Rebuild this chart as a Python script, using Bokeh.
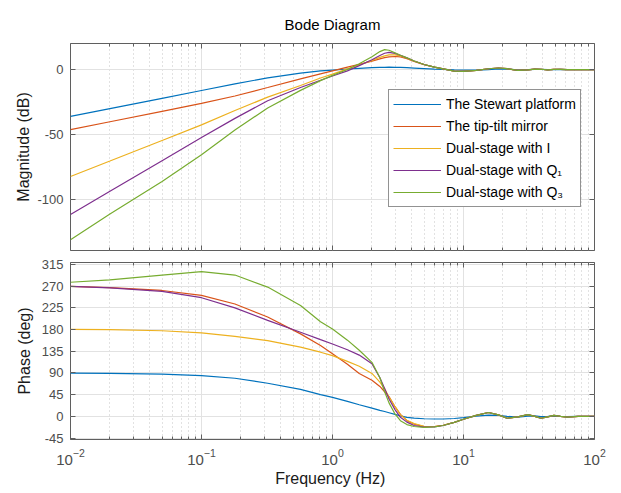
from bokeh.plotting import figure
from bokeh.models import (LogAxis, LinearAxis, FixedTicker, LogTickFormatter, Legend,
                          LegendItem, Range1d, CustomJSTickFormatter)
from bokeh.layouts import column
from bokeh.embed import file_html
from bokeh.resources import INLINE

# ---------------- data ----------------
freq = [0.01, 0.02, 0.05, 0.1, 0.18, 0.32, 0.57, 0.81, 1.0, 1.3, 1.6, 2.0, 2.3, 2.5,
        2.7, 3.0, 3.3, 3.7, 4.2, 5.0, 6.0, 7.0, 8.5, 10, 12.5, 15.5, 18.5, 21.5, 26,
        31, 35, 39, 44, 49, 55, 62, 75, 100]

series_names = ["The Stewart platform", "The tip-tilt mirror", "Dual-stage with I",
                "Dual-stage with Q\u2081", "Dual-stage with Q\u2083"]

mag_stewart = [-36.0, -30.0, -22.1, -16.1, -11.0, -6.4, -2.8, -1.1, -0.4, 0.4, 0.9, 1.4,
               1.6, 1.7, 1.8, 1.7, 1.6, 1.4, 1.1, 0.7, 0.3, 0.1, -0.2, -0.4, -0.4, 0.0,
               0.4, 0.3, -0.3, -0.1, 0.2, 0.1, -0.1, 0.0, 0.1, 0.0, 0.0, 0.0]
mag_mirror = [-46.2, -40.1, -32.1, -26.0, -20.3, -13.8, -7.2, -3.3, -1.0, 1.8, 4.0, 6.5,
              8.2, 9.1, 9.7, 10.0, 9.7, 8.4, 6.3, 3.8, 1.8, 0.5, -1.2, -1.4, -0.6, 0.6,
              1.2, 0.7, -0.7, -0.3, 0.3, 0.2, -0.3, 0.1, 0.2, 0.0, 0.0, 0.0]
mag_dual_i = [-82.2, -70.3, -54.5, -42.5, -31.5, -21.2, -12.3, -6.5, -3.5, 0.5, 3.5, 7.0,
              9.3, 10.5, 11.3, 11.3, 10.5, 8.8, 6.5, 3.9, 1.9, 0.5, -1.2, -1.4, -0.6, 0.6,
              1.2, 0.7, -0.7, -0.3, 0.3, 0.2, -0.3, 0.1, 0.2, 0.0, 0.0, 0.0]
mag_dual_q1 = [-111.4, -93.5, -70.0, -52.2, -37.5, -24.0, -13.8, -8.2, -5.0, -1.0, 3.0,
               7.5, 10.8, 12.5, 13.2, 12.4, 11.0, 9.0, 6.6, 3.9, 1.9, 0.5, -1.2, -1.4,
               -0.6, 0.6, 1.2, 0.7, -0.7, -0.3, 0.3, 0.2, -0.3, 0.1, 0.2, 0.0, 0.0, 0.0]
mag_dual_q3 = [-130.8, -111.0, -86.0, -65.5, -46.5, -29.5, -16.0, -8.5, -4.5, 0.0, 4.5,
               9.8, 13.8, 15.3, 14.8, 12.8, 11.0, 9.0, 6.6, 3.9, 1.9, 0.5, -1.2, -1.4,
               -0.6, 0.6, 1.2, 0.7, -0.7, -0.3, 0.3, 0.2, -0.3, 0.1, 0.2, 0.0, 0.0, 0.0]

ph_stewart = [89.5, 89.0, 87.5, 84.5, 79.0, 68.6, 56.0, 45.0, 39.5, 31.0, 24.0, 17.0,
              12.5, 10.0, 7.5, 4.0, 1.0, -2.0, -3.5, -5.0, -5.5, -5.5, -4.5, -2.5, 0.5,
              2.5, 2.0, 0.0, -1.5, 0.5, 1.0, -0.5, 0.0, 0.5, 0.0, -0.3, 0.0, 0.0]
ph_mirror = [269.4, 267.0, 261.0, 251.0, 233.0, 206.0, 171.0, 147.0, 130.0, 108.0, 89.0,
             75.0, 62.0, 51.0, 41.0, 20.0, 4.0, -9.0, -16.0, -21.0, -21.0, -18.5, -12.5,
             -6.0, 2.0, 8.0, 3.0, -4.0, -1.0, 3.5, 0.0, -4.0, -1.0, 2.0, 0.0, -1.5, 0.0, 0.0]
ph_dual_i = [180.5, 180.0, 177.5, 173.0, 166.0, 157.0, 143.5, 133.0, 126.0, 114.0, 104.0,
             89.0, 71.0, 57.0, 40.0, 20.0, 3.0, -8.0, -15.0, -20.5, -21.0, -18.5, -12.5,
             -6.0, 2.0, 8.0, 3.0, -4.0, -1.0, 3.5, 0.0, -4.0, -1.0, 2.0, 0.0, -1.5, 0.0, 0.0]
ph_dual_q1 = [269.4, 266.5, 259.0, 246.0, 225.0, 199.0, 174.5, 159.0, 150.0, 138.0, 127.0,
              109.0, 80.0, 58.0, 36.0, 14.0, -2.0, -12.0, -19.0, -22.5, -22.0, -19.0,
              -12.5, -6.0, 2.0, 8.0, 3.0, -4.0, -1.0, 3.5, 0.0, -4.0, -1.0, 2.0, 0.0,
              -1.5, 0.0, 0.0]
ph_dual_q3 = [278.0, 283.0, 293.0, 300.0, 293.0, 268.0, 230.0, 196.0, 181.0, 158.0, 137.0,
              112.0, 80.0, 51.0, 28.0, 5.0, -9.0, -17.0, -21.0, -23.0, -22.0, -19.0,
              -12.5, -6.0, 2.0, 8.0, 3.0, -4.0, -1.0, 3.5, 0.0, -4.0, -1.0, 2.0, 0.0,
              -1.5, 0.0, 0.0]

x_major = [0.01, 0.1, 1, 10, 100]
x_minor = [m * d for d in [0.01, 0.1, 1, 10] for m in range(2, 10)]
mag_ticks = [-100, -50, 0]
phase_ticks = [-45, 0, 45, 90, 135, 180, 225, 270, 315]

colors = ["#0072BD", "#D95319", "#EDB120", "#7E2F8E", "#77AC30"]

FONT = "Liberation Sans"
BOX = "#5f5f5f"
TICKLBL = "#4d4d4d"
LBL = "#1a1a1a"


def blank():
    return CustomJSTickFormatter(code="return ''")


def tick_only_axis(cls, ticker, minor=True):
    return cls(ticker=ticker, formatter=blank(), major_label_text_font_size="1px",
               major_label_standoff=0, axis_line_color=None,
               major_tick_in=5, major_tick_out=0,
               minor_tick_in=3 if minor else 0, minor_tick_out=0,
               major_tick_line_color=BOX,
               minor_tick_line_color=BOX if minor else None)


def style_axis(ax):
    ax.axis_line_color = None
    ax.major_tick_line_color = BOX
    ax.minor_tick_line_color = BOX
    ax.major_tick_in = 5
    ax.major_tick_out = 0
    ax.minor_tick_in = 3
    ax.minor_tick_out = 0
    ax.major_label_text_font = FONT
    ax.major_label_text_color = TICKLBL
    ax.major_label_text_font_size = "13px"
    ax.axis_label_text_font = FONT
    ax.axis_label_text_font_style = "normal"
    ax.axis_label_text_color = LBL
    ax.axis_label_text_font_size = "16px"


def base_fig(height, y0, y1, top, bottom):
    p = figure(width=621, height=height, x_axis_type="log",
               x_range=Range1d(0.01, 100), y_range=Range1d(y0, y1),
               output_backend="svg", toolbar_location=None,
               min_border_left=70, min_border_right=27,
               min_border_top=top, min_border_bottom=bottom)
    p.outline_line_color = BOX
    p.outline_line_width = 1
    p.background_fill_color = "white"
    p.border_fill_color = "white"
    xt = FixedTicker(ticks=x_major, minor_ticks=x_minor)
    xax = p.below[0]
    yax = p.left[0]
    xax.ticker = xt
    p.xgrid.ticker = xt
    p.xgrid.grid_line_color = "#e2e2e2"
    p.xgrid.minor_grid_line_color = "#c4c4c4"
    p.xgrid.minor_grid_line_dash = "1 3"
    p.ygrid.grid_line_color = "#e2e2e2"
    style_axis(xax)
    style_axis(yax)
    p.add_layout(tick_only_axis(LogAxis, xt), "above")
    return p, xax, yax


# ---------------- magnitude ----------------
p1, xax1, yax1 = base_fig(256, -139, 20, 43, 6)
yt1 = FixedTicker(ticks=mag_ticks, minor_ticks=[])
yax1.ticker = yt1
p1.ygrid.ticker = yt1
yax1.major_label_overrides = {-100: "-100", -50: "-50", 0: "0"}
yax1.axis_label = "Magnitude (dB)"
yax1.major_label_standoff = 7
yax1.axis_label_standoff = 2
xax1.formatter = blank()
xax1.major_label_text_font_size = "1px"
xax1.major_label_standoff = 0
p1.add_layout(tick_only_axis(LinearAxis, yt1, minor=False), "right")

mags = [mag_stewart, mag_mirror, mag_dual_i, mag_dual_q1, mag_dual_q3]
items = []
for name, m, c in zip(series_names, mags, colors):
    r = p1.line(freq, m, line_color=c, line_width=1.2)
    items.append(LegendItem(label=name, renderers=[r]))

legend = Legend(items=items, location=(318, 43), orientation="vertical",
                border_line_color="#262626", border_line_width=1,
                background_fill_color="white", background_fill_alpha=1.0,
                label_text_font=FONT, label_text_font_size="14px",
                label_text_color="#000000", glyph_width=48, glyph_height=20,
                label_height=20, label_standoff=5, spacing=2, padding=4, margin=0)
p1.add_layout(legend, "center")

p1.title.text = "Bode Diagram"
p1.title.align = "center"
p1.title.text_font = FONT
p1.title.text_font_size = "15px"
p1.title.text_font_style = "normal"
p1.title.text_color = "#000000"
p1.title.standoff = 22

# ---------------- phase ----------------
p2, xax2, yax2 = base_fig(237, -48, 319, 6, 54)
yt2 = FixedTicker(ticks=phase_ticks, minor_ticks=[])
yax2.ticker = yt2
p2.ygrid.ticker = yt2
yax2.major_label_overrides = {-45: "-45"}
yax2.axis_label = "Phase (deg)"
yax2.major_label_standoff = 7
yax2.axis_label_standoff = 6
xax2.formatter = LogTickFormatter()
xax2.axis_label = "Frequency  (Hz)"
xax2.major_label_standoff = 9
xax2.axis_label_standoff = 2
xax2.major_label_text_font_size = "15px"
p2.add_layout(tick_only_axis(LinearAxis, yt2, minor=False), "right")

phases = [ph_stewart, ph_mirror, ph_dual_i, ph_dual_q1, ph_dual_q3]
for ph, c in zip(phases, colors):
    p2.line(freq, ph, line_color=c, line_width=1.2)

layout = column(p1, p2, spacing=0)
open("out.html", "w").write(file_html(layout, INLINE))
